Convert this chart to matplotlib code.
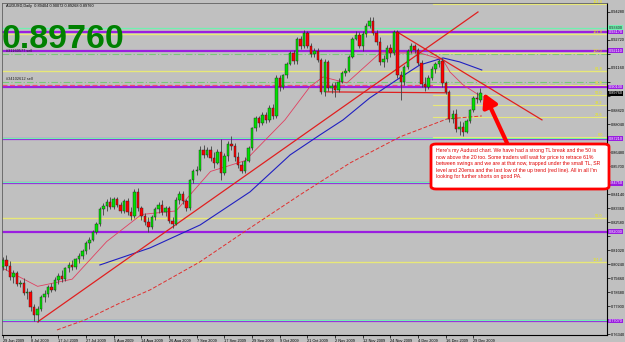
import matplotlib
matplotlib.use("Agg")
import matplotlib.pyplot as plt
from matplotlib.patches import FancyBboxPatch

# daily AUDUSD bars, 29 Jun 2009 .. 31 Dec 2009
opens = [.8005, .8048, .8012, .7950, .7975, .7915, .7920, .7862, .7870, .7785,
         .7740, .7772, .7838, .7860, .7895, .7882, .7935, .7960, .7940, .8000,
         .8020, .8005, .8050, .8070, .8095, .8140, .8160, .8205, .8245, .8330,
         .8345, .8370, .8340, .8385, .8355, .8320, .8375, .8315, .8290, .8425,
         .8335, .8290, .8260, .8230, .8285, .8330, .8355, .8315, .8335, .8265,
         .8245, .8380, .8415, .8375, .8335, .8490, .8540, .8550, .8660, .8630,
         .8660, .8615, .8585, .8650, .8530, .8625, .8695, .8680, .8620, .8575,
         .8545, .8600, .8670, .8780, .8835, .8810, .8855, .8825, .8895, .8850,
         .9060, .9010, .9075, .9140, .9200, .9155, .9280, .9240, .9310, .9240,
         .9195, .9210, .9160, .8985, .9150, .9005, .9015, .8995, .9040, .9090,
         .9100, .9180, .9280, .9300, .9240, .9305, .9350, .9375, .9310, .9260,
         .9150, .9165, .9230, .9200, .9315, .9075, .9040, .9120, .9210, .9240,
         .9215, .9145, .9025, .9010, .9060, .9110, .9140, .9155, .9030, .8985,
         .8830, .8860, .8775, .8790, .8760, .8820, .8880, .8950, .89404]
highs = [.8062, .8075, .8040, .7990, .7985, .7935, .7945, .7890, .7880, .7800,
         .7790, .7850, .7880, .7905, .7920, .7950, .7975, .7990, .8010, .8035,
         .8045, .8060, .8085, .8110, .8150, .8175, .8215, .8260, .8340, .8365,
         .8385, .8395, .8395, .8400, .8370, .8385, .8390, .8340, .8440, .8445,
         .8350, .8310, .8285, .8300, .8340, .8370, .8380, .8345, .8350, .8285,
         .8395, .8430, .8430, .8385, .8500, .8555, .8570, .8680, .8685, .8675,
         .8680, .8650, .8665, .8720, .8640, .8710, .8740, .8700, .8650, .8600,
         .8620, .8680, .8790, .8850, .8850, .8870, .8870, .8910, .8915, .9075,
         .9075, .9085, .9150, .9210, .9215, .9290, .9295, .9330, .9320, .9255,
         .9230, .9225, .9170, .9165, .9160, .9035, .9040, .9060, .9100, .9115,
         .9190, .9290, .9320, .9315, .9320, .9365, .9400, .9400, .9325, .9290,
         .9190, .9245, .9250, .9330, .9330, .9100, .9135, .9220, .9255, .9250,
         .9230, .9160, .9065, .9075, .9125, .9150, .9165, .9170, .9045, .8995,
         .8880, .8885, .8820, .8815, .8830, .8890, .8960, .8980, .90072]
lows = [.7990, .7990, .7935, .7920, .7900, .7895, .7850, .7830, .7760, .7705,
        .7702, .7760, .7815, .7840, .7870, .7875, .7915, .7925, .7930, .7980,
        .7990, .7995, .8030, .8055, .8080, .8110, .8150, .8190, .8235, .8300,
        .8320, .8330, .8330, .8340, .8310, .8310, .8300, .8270, .8280, .8320,
        .8270, .8240, .8200, .8220, .8270, .8310, .8300, .8290, .8250, .8225,
        .8240, .8360, .8360, .8320, .8325, .8475, .8520, .8540, .8615, .8620,
        .8600, .8560, .8580, .8495, .8520, .8600, .8660, .8600, .8560, .8530,
        .8530, .8590, .8660, .8765, .8790, .8800, .8810, .8815, .8830, .8840,
        .8990, .9000, .9060, .9130, .9140, .9140, .9220, .9230, .9225, .9180,
        .9175, .9150, .8970, .8960, .8990, .8975, .8955, .8985, .9030, .9070,
        .9095, .9170, .9270, .9225, .9210, .9290, .9340, .9300, .9245, .9135,
        .9120, .9150, .9180, .9190, .9060, .8940, .9020, .9110, .9200, .9200,
        .9130, .9010, .8990, .9000, .9050, .9090, .9120, .9010, .8970, .8815,
        .8810, .8760, .8745, .8735, .8755, .8810, .8870, .8920, .89268]
closes = [.8048, .8012, .7950, .7975, .7915, .7920, .7862, .7870, .7785, .7740,
          .7772, .7838, .7860, .7895, .7882, .7935, .7960, .7940, .8000, .8020,
          .8005, .8050, .8070, .8095, .8140, .8160, .8205, .8245, .8330, .8345,
          .8370, .8340, .8385, .8355, .8320, .8375, .8315, .8290, .8425, .8335,
          .8290, .8260, .8230, .8285, .8330, .8355, .8315, .8335, .8265, .8245,
          .8380, .8415, .8375, .8335, .8490, .8540, .8550, .8660, .8630, .8660,
          .8615, .8585, .8650, .8530, .8625, .8695, .8680, .8620, .8575, .8545,
          .8600, .8670, .8780, .8835, .8810, .8855, .8825, .8895, .8850, .9060,
          .9010, .9075, .9140, .9200, .9155, .9280, .9240, .9310, .9240, .9195,
          .9210, .9160, .8985, .9150, .9005, .9015, .8995, .9040, .9090, .9100,
          .9180, .9280, .9300, .9240, .9305, .9350, .9375, .9310, .9260, .9150,
          .9165, .9230, .9200, .9315, .9075, .9040, .9120, .9210, .9240, .9215,
          .9145, .9025, .9010, .9060, .9110, .9140, .9155, .9030, .8985, .8830,
          .8860, .8775, .8790, .8760, .8820, .8880, .8950, .8945, .89760]

date_labels = ['29 Jun 2009', '8 Jul 2009', '17 Jul 2009', '27 Jul 2009', '5 Aug 2009',
               '14 Aug 2009', '26 Aug 2009', '7 Sep 2009', '17 Sep 2009', '29 Sep 2009',
               '9 Oct 2009', '21 Oct 2009', '2 Nov 2009', '12 Nov 2009', '24 Nov 2009',
               '4 Dec 2009', '16 Dec 2009', '29 Dec 2009']
date_bars = [0, 8, 16, 24, 32, 40, 48, 56, 64, 72, 80, 88, 96, 104, 112, 120, 128, 136]

# moving averages read at a few bars
ma50_x = [28, 42.5, 57, 71.4, 83, 91.6, 98.3, 106, 114.7, 120.5, 127.2, 132, 138.4]
ma50_y = [.8019, .8114, .8242, .8426, .8632, .8743, .8827, .8949, .9061, .9133, .9172, .9150, .9105]
ema20_x = [0, 10, 20, 30, 40, 50, 60, 70, 81.5, 88.7, 92.5, 99.4, 109, 114.7, 120.5, 127.2, 129.2, 133, 138.4]
ema20_y = [.8000, .7900, .7940, .8150, .8300, .8320, .8540, .8600, .8827, .9011, .9066, .9033, .9200,
           .9200, .9200, .9161, .9094, .9022, .8955]
ma100_x = [15.6, 23.7, 33.8, 42.5, 56.9, 71.4, 85.8, 100.3, 114.7, 128.3, 138.4]
ma100_y = [.7657, .7713, .7807, .7880, .8036, .8225, .8409, .8587, .8732, .8832, .8849]

# drawn objects
up_tl_x, up_tl_y = [10, 137.3], [.7702, .9428]
small_tl_x, small_tl_y = [113.9, 155.8], [.9317, .8827]
sr_x, sr_y = [93.6, 128.3], [.8983, .8978]

purple_levels = [.9317, .9211, .9010, .8721, .8475, .8203, .7707]
green_levels = [.9340, .8726, .8479, .7713]
order_levels = [.9194, .9038]
order_names = ['#31160577 sell', '#34102612 sell']
red_dash_level = .9022
fib_long = [.9306, .9100, .8281, .8036]
fib_long_names = ['161.8', '61.8', '50.0', '161.8']
fib_short = [.9473, .9200, .9021, .8966, .8911, .8842, .8732]
fib_short_names = ['161.8', '100.0', '61.8', '50.0', '38.2', '23.6', '0.0']
fib_start = 124.3

price_ticks = [.9428 - 0.0078 * k for k in range(24)]
last_price = 0.89760

BG = '#c0c0c0'
SMALL = 2.8
FONT = 'Liberation Sans'
fig = plt.figure(figsize=(6.25, 3.42), dpi=100, facecolor=BG)
ax = fig.add_axes([2 / 625, 7 / 342, 605 / 625, 332 / 342], facecolor=BG)
ax.set_xlim(-0.29, 174.6)
ax.set_ylim(0.7629, 0.9478)

# horizontal objects
for p in fib_long:
    ax.axhline(p, color='#e8e878', lw=1.0, zorder=1)
for p in purple_levels:
    ax.axhline(p, color='#9a1ee0', lw=1.6, zorder=1)
for p in green_levels:
    ax.axhline(p, color='#70f0b0', lw=0.9, zorder=1)
for p in order_levels:
    ax.axhline(p, color='#78c878', lw=0.8, ls=(0, (6, 2, 1, 2)), zorder=1)
ax.axhline(red_dash_level, color='#f05070', lw=0.9, ls=(0, (4, 2)), zorder=1)
for p in fib_short:
    ax.plot([fib_start, 175], [p, p], color='#e8e878', lw=0.8, zorder=1)

ytr = ax.get_yaxis_transform()
for p, s in zip(fib_long + fib_short, fib_long_names + fib_short_names):
    ax.text(0.993, p, s, transform=ytr, ha='right', va='bottom', fontsize=SMALL,
            color='#f0f000', family=FONT)
for p, s in zip(order_levels, order_names):
    ax.text(0.006, p + 0.0005, s, transform=ytr, ha='left', va='bottom', fontsize=SMALL,
            color='#202020', family=FONT)

# indicators and trend lines
ax.plot(ma50_x, ma50_y, color='#2020c0', lw=0.8, zorder=2)
ax.plot(ema20_x, ema20_y, color='#e04060', lw=0.6, zorder=2)
ax.plot(ma100_x, ma100_y, color='#e03030', lw=0.7, ls=(0, (4, 2)), zorder=2)
ax.plot(up_tl_x, up_tl_y, color='#e02020', lw=0.9, zorder=2)
ax.plot(small_tl_x, small_tl_y, color='#e02020', lw=0.9, zorder=2)
ax.plot(sr_x, sr_y, color='#e02020', lw=0.9, zorder=2)

# candles
idx = list(range(len(closes)))
ax.vlines(idx, lows, highs, color='#404040', lw=0.6, zorder=3)
up = [i for i in idx if closes[i] >= opens[i]]
dn = [i for i in idx if closes[i] < opens[i]]
ax.bar(up, [closes[i] - opens[i] for i in up], bottom=[opens[i] for i in up], width=0.7,
       color='#00e000', edgecolor='#202020', lw=0.3, zorder=4)
ax.bar(dn, [opens[i] - closes[i] for i in dn], bottom=[closes[i] for i in dn], width=0.7,
       color='#ff0000', edgecolor='#202020', lw=0.3, zorder=4)

# axes
for side in ['left', 'top']:
    ax.spines[side].set_color('#606060')
    ax.spines[side].set_linewidth(0.6)
for side in ['right', 'bottom']:
    ax.spines[side].set_color('black')
    ax.spines[side].set_linewidth(0.8)

# price boxes cover the scale labels they sit on
boxed = purple_levels + [green_levels[0], last_price]
ax.yaxis.tick_right()
ax.set_yticks(price_ticks)
ax.set_yticklabels(['' if min(abs(p - b) for b in boxed) < 0.0033 else f'{p:.5f}'
                    for p in price_ticks])
ax.set_xticks(date_bars)
ax.set_xticklabels(date_labels, ha='left')
ax.tick_params(axis='both', labelsize=SMALL, length=2, width=0.5, pad=1, colors='black')
for t in ax.get_xticklabels() + ax.get_yticklabels():
    t.set_family(FONT)


def price_box(p, fc, tc):
    ax.text(1.003, p, f'{p:.5f}', transform=ytr, ha='left', va='center', fontsize=SMALL,
            color=tc, family=FONT, clip_on=False, zorder=6,
            bbox=dict(boxstyle='square,pad=0.12', fc=fc, ec='none'))


for p in purple_levels:
    price_box(p, '#9a1ee0', 'white')
price_box(green_levels[0], '#70f0b0', '#202020')
price_box(last_price, 'black', 'white')

# header texts
ax.text(0.006, 0.996, f'AUDUSD,Daily  {opens[-1]:.5f} {highs[-1]:.5f} {lows[-1]:.5f} {closes[-1]:.5f}',
        transform=ax.transAxes, ha='left', va='top', fontsize=SMALL, color='black', family=FONT)
fig.text(2 / 625, 294 / 342, f'{last_price:.5f}', fontsize=24.5, fontweight='bold',
         color='#008000', family=FONT, ha='left', va='baseline')

# comment box with arrow
box = FancyBboxPatch((431 / 625, 153 / 342), 178 / 625, 45 / 342,
                     boxstyle='round,pad=0,rounding_size=0.008', transform=fig.transFigure,
                     fc='white', ec='#ff0000', lw=2.0, zorder=10)
fig.patches.append(box)
note = ("Here's my Audusd chart. We have had a strong TL break and the 50 is\n"
        "now above the 20 too. Some traders will wait for price to retrace 61%\n"
        "between swings and we are at that now, trapped under the small TL, SR\n"
        "level and 20ema and the last low of the up trend (red line). All in all I'm\n"
        "looking for further shorts on good PA.")
fig.text(436 / 625, 194 / 342, note, fontsize=3.7, color='#e00000', family=FONT,
         ha='left', va='top', linespacing=1.4, zorder=11)
ax.annotate('', xy=(139.0, 0.8977), xycoords='data', xytext=(507, 199), textcoords='figure pixels',
            arrowprops=dict(arrowstyle='-|>,head_length=0.8,head_width=0.45', color='#ff0000', lw=3.0,
                            shrinkA=0, shrinkB=0), zorder=9)

fig.savefig('out.png', dpi=100, facecolor=BG)
